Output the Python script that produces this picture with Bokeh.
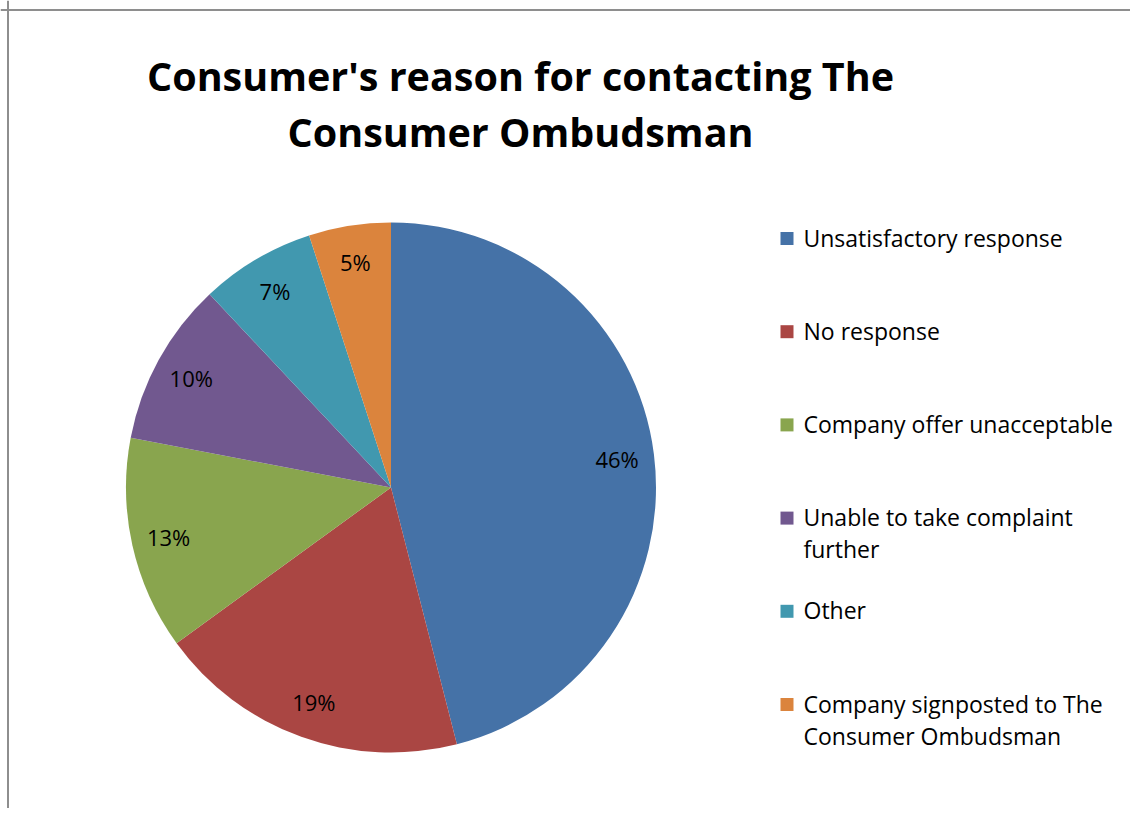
import math
from bokeh.plotting import figure
from bokeh.models import Range1d, Span, ColumnDataSource
from bokeh.core.properties import value
from bokeh.embed import file_html
from bokeh.resources import INLINE

title_lines = ["Consumer's reason for contacting The", "Consumer Ombudsman"]
categories = ["Unsatisfactory response", "No response", "Company offer unacceptable",
              "Unable to take complaint further", "Other",
              "Company signposted to The Consumer Ombudsman"]
legend_lines = [["Unsatisfactory response"], ["No response"], ["Company offer unacceptable"],
                ["Unable to take complaint", "further"], ["Other"],
                ["Company signposted to The", "Consumer Ombudsman"]]
percents = [46, 19, 13, 10, 7, 5]
colors = ["#4572A7", "#AA4643", "#89A54E", "#71588F", "#4198AF", "#DB843D"]

W, H = 1130, 808
FONT = "Open Sans"

p = figure(width=W, height=H, output_backend="svg", toolbar_location=None,
           x_range=Range1d(0, W), y_range=Range1d(816 - H, 816),
           min_border=0)
p.axis.visible = False
p.grid.visible = False
p.outline_line_color = None
p.background_fill_color = "white"

def Y(py):
    return 816 - py

# pie
cx, cy, R = 390.5, Y(487), 265
total = float(sum(percents))
starts, ends, mids = [], [], []
a = math.pi / 2
for v in percents:
    sweep = 2 * math.pi * v / total
    starts.append(a - sweep)
    ends.append(a)
    mids.append(a - sweep / 2)
    a -= sweep

src = ColumnDataSource(dict(x=[cx] * len(percents), y=[cy] * len(percents),
                            start=starts, end=ends, color=colors, cat=categories))
p.wedge(x="x", y="y", radius=R, start_angle="start", end_angle="end",
        fill_color="color", line_color=None, source=src)

# data labels
lx = [cx + 0.86 * R * math.cos(m) for m in mids]
ly = [cy + 0.86 * R * math.sin(m) for m in mids]
p.text(x=lx, y=ly, text=[f"{v}%" for v in percents], text_align="center",
       text_baseline="middle", text_font=value(FONT), text_font_size="22px",
       text_color="#000000")

# title
p.text(x=[520, 520], y=[Y(75), Y(131)], text=title_lines, text_align="center",
       text_baseline="alphabetic", text_font=value(FONT), text_font_size="39.5px",
       text_font_style="bold", text_color="#000000")

# legend
sq_x, tx = 786.5, 803
y0, dy, lh = 238, 93.2, 32
for i, (lines, c) in enumerate(zip(legend_lines, colors)):
    yy = y0 + i * dy
    p.rect(x=[sq_x], y=[Y(yy)], width=13, height=13, fill_color=c, line_color=None)
    for j, t in enumerate(lines):
        p.text(x=[tx], y=[Y(yy - 1 + j * lh)], text=[t], text_align="left",
               text_baseline="middle", text_font=value(FONT), text_font_size="23px",
               text_color="#000000")

# frame border (top and left)
p.add_layout(Span(location=Y(9.5), dimension="width", line_color="#8e8e8e", line_width=2))
p.add_layout(Span(location=7.5, dimension="height", line_color="#8e8e8e", line_width=2))

open("out.html", "w").write(file_html(p, INLINE))
